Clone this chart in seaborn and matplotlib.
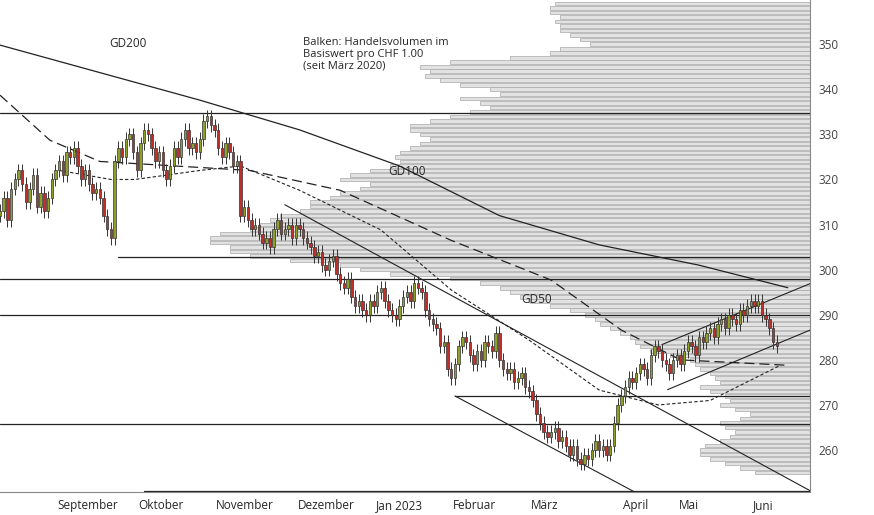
import matplotlib
matplotlib.use("Agg")
import matplotlib.pyplot as plt
import seaborn as sns
import numpy as np
import pandas as pd

sns.set_style("white")
plt.rcParams['font.family'] = ['Open Sans', 'DejaVu Sans']

aug = [313,316,311,318,320,322,319,315,318,321,314,317,313,316,320]
sep = [322,324,321,326,325,327,323,320,322,319,317,318,316,312,309,307,324,327,325,329,330,326]
okt = [322,328,331,330,327,324,326,322,320,323,327,325,329,331,327,328,326,329,333,334,332]
nov = [331,327,325,328,326,323,324,312,314,311,309,310,308,306,307,305,309,311,308,309,310,307]
dez = [310,309,307,306,305,303,304,301,300,302,303,299,297,296,298,294,292,293,291,290,293]
jan = [292,295,296,293,291,290,289,292,294,295,293,297,296,295,291,289,288,287,283,284,278]
feb = [276,279,283,285,284,281,279,282,280,284,283,282,286,280,278,277,278,275,276,277,274]
mar = [273,271,268,266,264,263,264,265,262,263,261,259,261,258,257,259,258,260,262,260,261,259,261,266,270]
apr = [272,274,276,275,277,279,278,276,281,283,282,280,279,277,280]
mai = [281,279,282,284,283,281,285,284,286,287,285,288,289,287,290,289,288,291,290,292]
jun = [293,292,293,290,289,287,284,283]
closes = aug+sep+okt+nov+dez+jan+feb+mar+apr+mai+jun

month_labels = ["September","Oktober","November","Dezember","Jan 2023","Februar","März","April","Mai","Juni"]
month_starts = [15,37,58,80,101,122,143,168,183,203]

gd200_x = [0,54,81,108,135,162,189,213]
gd200_y = [349.8,337.6,331,323,312,305.5,301,296]
gd100_x = [0,13.5,27,67.5,92,122,149,168,184,213]
gd100_y = [338.7,328.7,324,322,317.6,306.5,297.7,286.6,280,278.8]
gd50_x = [16,30,36.5,54,65,81,103,122,143,162,178,192,211]
gd50_y = [322,320,320,322,323,317.6,308.8,295.5,284.4,273.3,270,271,278.8]

levels = list(range(255,360))
vol = [55,70,85,100,110, 110,105,90,80,75, 85,90,70,60,75, 90,80,85,100,110,
       90,95,100,110,115, 120,140,160,170,175, 180,190,200,210,215, 225,240,260,280,290,
       300,310,330,360,420, 450,470,520,560,580, 580,600,600,590,560, 550,540,530,510,500,
       500,480,470,450,440, 470,460,440,420,410, 415,410,400,390,380, 390,400,400,380,360,
       340,320,330,350,310, 320,350,370,385,380, 390,360,300,260,250, 220,230,240,250,250,
       255,250,260,260,255]
levels = levels[:len(vol)]

hlines = [334.7, 298.0, 290.0, 265.7]

fig = plt.figure(figsize=(8.74,5.15), dpi=100)
ax2 = fig.add_axes([0, 23/515, 810/874, 492/515])
ax = fig.add_axes([0, 23/515, 810/874, 492/515])
ax.set_zorder(ax2.get_zorder()+1)
ax.patch.set_visible(False)

ax2.barh(levels, vol, height=0.8, left=0, color="#e2e2e2", edgecolor="#a8a8a8", linewidth=0.5)
ax2.set_xlim(810, 0)
ax2.set_ylim(250.7, 359.8)
ax2.axis("off")

ymin, ymax = 250.7, 359.8
ax.set_xlim(0, 219)
ax.set_ylim(ymin, ymax)

opens = [closes[0]-1] + closes[:-1]
for i, (o, c) in enumerate(zip(opens, closes)):
    up = c >= o
    col = "#8fa02a" if up else "#c0302a"
    lo, hi = min(o, c), max(o, c)
    ax.vlines(i, lo-1.5, hi+1.5, color="#333333", lw=0.7, zorder=3)
    ax.bar(i, max(hi-lo, 0.3), bottom=lo, width=0.65, color=col, edgecolor="#333333", linewidth=0.5, zorder=4)

df = pd.DataFrame({"x": gd200_x, "y": gd200_y})
sns.lineplot(data=df, x="x", y="y", ax=ax, color="#222222", lw=0.9)
ax.plot(gd100_x, gd100_y, color="#222222", lw=0.9, dashes=(8, 4))
ax.plot(gd50_x, gd50_y, color="#222222", lw=0.8, dashes=(3, 2))

for h in hlines:
    ax.axhline(h, color="#222222", lw=0.9)
ax.plot([32, 219], [302.8, 302.8], color="#222222", lw=0.9)
ax.plot([123, 219], [272.0, 272.0], color="#222222", lw=0.9)
ax.plot([39, 219], [251.0, 251.0], color="#222222", lw=0.9)
ax.plot([77, 219], [314.4, 251.0], color="#222222", lw=0.8)
ax.plot([123, 171.6], [272.0, 250.7], color="#222222", lw=0.8)
ax.plot([179, 219], [283.4, 296.9], color="#222222", lw=0.8)
ax.plot([180.5, 219], [273.4, 286.6], color="#222222", lw=0.8)

ax.text(29.5, 349.3, "GD200", fontsize=8.5)
ax.text(105, 321, "GD100", fontsize=8.5)
ax.text(141, 292.5, "GD50", fontsize=8.5)
ax.text(82, 344.5, "Balken: Handelsvolumen im\nBasiswert pro CHF 1.00\n(seit März 2020)", fontsize=8, linespacing=1.15)

ax.yaxis.tick_right()
ax.set_yticks(range(260, 351, 10))
ax.tick_params(axis='y', labelsize=8.5, labelcolor="#444444", length=0, pad=6)
ax.set_xticks(month_starts)
ax.set_xticklabels([])
ax.tick_params(axis='x', length=6, color="#888888", direction="out")
for s, lab in zip(month_starts, month_labels):
    ax.text(s+0.5, ymin-1.6, lab, fontsize=8.5, ha="left", va="top")
for sp in ["top", "left"]:
    ax.spines[sp].set_visible(False)
for sp in ["right", "bottom"]:
    ax.spines[sp].set_color("#888888")
ax.set_xlabel(""); ax.set_ylabel("")
fig.savefig("out.png", dpi=100)
